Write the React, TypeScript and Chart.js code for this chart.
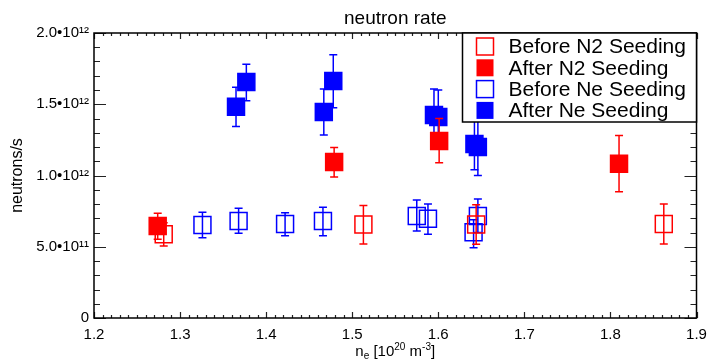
import React, { useEffect, useRef } from "react";
import { Chart, registerables } from "chart.js";

Chart.register(...registerables);

const FONT = "'Liberation Sans', Arial, Helvetica, sans-serif";

const chartTitle = "neutron rate";
const yAxisTitle = "neutrons/s";
const seriesLabels = ["Before N2 Seeding", "After N2 Seeding", "Before Ne Seeding", "After Ne Seeding"];
const seriesColors = ["#ff0000", "#ff0000", "#0000ff", "#0000ff"];
const seriesFilled = [false, true, false, true];

const xTickValues = [1.2, 1.3, 1.4, 1.5, 1.6, 1.7, 1.8, 1.9];
const xTickLabels = ["1.2", "1.3", "1.4", "1.5", "1.6", "1.7", "1.8", "1.9"];
const yTickValues = [0, 0.5e12, 1.0e12, 1.5e12, 2.0e12];
const yTickLabels = ["0", "5.0\u202210\u00b9\u00b9", "1.0\u202210\u00b9\u00b2", "1.5\u202210\u00b9\u00b2", "2.0\u202210\u00b9\u00b2"];

// Before N2 seeding (open red)
const beforeN2Density = [1.281, 1.513, 1.644, 1.862];
const beforeN2Rate = [0.587e12, 0.656e12, 0.656e12, 0.66e12];
const beforeN2Low = [0.505e12, 0.52e12, 0.517e12, 0.52e12];
const beforeN2High = [0.669e12, 0.79e12, 0.795e12, 0.8e12];

// After N2 seeding (filled red)
const afterN2Density = [1.274, 1.479, 1.601, 1.81];
const afterN2Rate = [0.646e12, 1.095e12, 1.242e12, 1.083e12];
const afterN2Low = [0.552e12, 0.99e12, 1.09e12, 0.886e12];
const afterN2High = [0.735e12, 1.197e12, 1.4e12, 1.28e12];

// Before Ne seeding (open blue)
const beforeNeDensity = [1.326, 1.368, 1.422, 1.466, 1.575, 1.588, 1.646, 1.641];
const beforeNeRate = [0.653e12, 0.681e12, 0.66e12, 0.681e12, 0.716e12, 0.696e12, 0.716e12, 0.601e12];
const beforeNeLow = [0.564e12, 0.594e12, 0.578e12, 0.578e12, 0.61e12, 0.587e12, 0.6e12, 0.493e12];
const beforeNeHigh = [0.742e12, 0.77e12, 0.739e12, 0.777e12, 0.828e12, 0.8e12, 0.835e12, 0.69e12];

// After Ne seeding (filled blue)
const afterNeDensity = [1.365, 1.377, 1.467, 1.478, 1.595, 1.6, 1.642, 1.646];
const afterNeRate = [1.482e12, 1.656e12, 1.446e12, 1.663e12, 1.425e12, 1.41e12, 1.221e12, 1.2e12];
const afterNeLow = [1.343e12, 1.525e12, 1.284e12, 1.476e12, 1.24e12, 1.237e12, 1.04e12, 1.0e12];
const afterNeHigh = [1.62e12, 1.78e12, 1.607e12, 1.848e12, 1.607e12, 1.6e12, 1.42e12, 1.44e12];

const seriesX = [beforeN2Density, afterN2Density, beforeNeDensity, afterNeDensity];
const seriesY = [beforeN2Rate, afterN2Rate, beforeNeRate, afterNeRate];
const seriesLow = [beforeN2Low, afterN2Low, beforeNeLow, afterNeLow];
const seriesHigh = [beforeN2High, afterN2High, beforeNeHigh, afterNeHigh];

const errorBarPlugin = {
  id: "errorBars",
  beforeDatasetDraw(chart: any, args: any) {
    const ds = chart.data.datasets[args.index];
    const xs = chart.scales.x;
    const ys = chart.scales.y;
    const ctx = chart.ctx;
    const area = chart.chartArea;
    ctx.save();
    ctx.beginPath();
    ctx.rect(area.left, area.top, area.right - area.left, area.bottom - area.top);
    ctx.clip();
    ctx.strokeStyle = ds.borderColor;
    ctx.lineWidth = 1.5;
    const cap = 4;
    ds.data.forEach((p: any) => {
      const px = xs.getPixelForValue(p.x);
      const top = ys.getPixelForValue(p.yMax);
      const bot = ys.getPixelForValue(p.yMin);
      ctx.beginPath();
      ctx.moveTo(px, top);
      ctx.lineTo(px, bot);
      ctx.moveTo(px - cap, top);
      ctx.lineTo(px + cap, top);
      ctx.moveTo(px - cap, bot);
      ctx.lineTo(px + cap, bot);
      ctx.stroke();
    });
    ctx.restore();
  },
};

const frameAndTicksPlugin = {
  id: "frameTicks",
  afterDatasetsDraw(chart: any) {
    const ctx = chart.ctx;
    const { left, right, top, bottom } = chart.chartArea;
    const xs = chart.scales.x;
    const ys = chart.scales.y;
    ctx.save();
    ctx.strokeStyle = "#222";
    ctx.lineWidth = 1.2;
    ctx.beginPath();
    const xMin = xs.min, xMax = xs.max;
    const nx = Math.round((xMax - xMin) / 0.01);
    for (let i = 0; i <= nx; i++) {
      const v = xMin + i * 0.01;
      const px = Math.round(xs.getPixelForValue(v)) + 0.5;
      const len = i % 10 === 0 ? 6 : 3;
      ctx.moveTo(px, bottom);
      ctx.lineTo(px, bottom - len);
      ctx.moveTo(px, top);
      ctx.lineTo(px, top + len);
    }
    const yMin = ys.min, yMax = ys.max;
    const ny = Math.round((yMax - yMin) / 1e11);
    for (let i = 0; i <= ny; i++) {
      const v = yMin + i * 1e11;
      const py = Math.round(ys.getPixelForValue(v)) + 0.5;
      const len = i % 5 === 0 ? 12 : 6;
      ctx.moveTo(left, py);
      ctx.lineTo(left + len, py);
      ctx.moveTo(right, py);
      ctx.lineTo(right - len, py);
    }
    ctx.stroke();
    ctx.strokeStyle = "#000";
    ctx.lineWidth = 1.5;
    ctx.strokeRect(left, top, right - left, bottom - top);
    ctx.restore();
  },
  afterDraw(chart: any) {
    const ctx = chart.ctx;
    const { left, right, top, bottom } = chart.chartArea;
    ctx.save();
    ctx.fillStyle = "#000";
    ctx.textBaseline = "alphabetic";
    const parts = [
      { t: "n", size: 15, dy: 0 },
      { t: "e", size: 10, dy: 3 },
      { t: " [10", size: 15, dy: 0 },
      { t: "20", size: 10, dy: -6 },
      { t: " m", size: 15, dy: 0 },
      { t: "-3", size: 10, dy: -6 },
      { t: "]", size: 15, dy: 0 },
    ];
    let total = 0;
    parts.forEach((p) => {
      ctx.font = `${p.size}px ${FONT}`;
      total += ctx.measureText(p.t).width;
    });
    let x = (left + right) / 2 - total / 2;
    const base = bottom + 38;
    parts.forEach((p) => {
      ctx.font = `${p.size}px ${FONT}`;
      ctx.fillText(p.t, x, base + p.dy);
      x += ctx.measureText(p.t).width;
    });

    const boxW = 234;
    const boxH = 89;
    const bx = right - boxW;
    const by = top;
    ctx.fillStyle = "#fff";
    ctx.fillRect(bx, by, boxW, boxH);
    ctx.strokeStyle = "#000";
    ctx.lineWidth = 1.5;
    ctx.strokeRect(bx, by, boxW, boxH);
    ctx.font = `21px ${FONT}`;
    ctx.textBaseline = "middle";
    chart.data.datasets.forEach((ds: any, i: number) => {
      const cy = by + 13.5 + i * 21.3;
      const mx = bx + 14;
      if (ds.filled) {
        ctx.fillStyle = ds.borderColor;
        ctx.fillRect(mx, cy - 8.5, 17, 17);
      } else {
        ctx.strokeStyle = ds.borderColor;
        ctx.lineWidth = 1.5;
        ctx.strokeRect(mx, cy - 8.5, 17, 17);
      }
      ctx.fillStyle = "#000";
      ctx.fillText(ds.label, bx + 46, cy + 1);
    });
    ctx.restore();
  },
};

export default function App() {
  const ref = useRef<HTMLCanvasElement | null>(null);
  useEffect(() => {
    if (!ref.current) return;
    const datasets = seriesLabels.map((label, s) => ({
      label,
      filled: seriesFilled[s],
      data: seriesX[s].map((x, i) => ({ x, y: seriesY[s][i], yMin: seriesLow[s][i], yMax: seriesHigh[s][i] })),
      borderColor: seriesColors[s],
      backgroundColor: seriesFilled[s] ? seriesColors[s] : "rgba(0,0,0,0)",
      pointStyle: "rect",
      pointRadius: 12,
      pointHoverRadius: 12,
      pointBorderWidth: 1.5,
      borderWidth: 1.5,
      showLine: false,
    }));
    const chart = new Chart(ref.current, {
      type: "scatter",
      data: { datasets } as any,
      options: {
        animation: false,
        responsive: false,
        events: [],
        layout: { padding: { left: 0, right: 2, top: 0, bottom: 0 } },
        plugins: {
          legend: { display: false },
          tooltip: { enabled: false },
          title: {
            display: true,
            fullSize: false,
            text: chartTitle,
            color: "#000",
            font: { family: FONT, size: 19, weight: "normal" },
            padding: { top: 7, bottom: 3.2 },
          },
        },
        scales: {
          x: {
            type: "linear",
            min: 1.2,
            max: 1.9,
            afterBuildTicks: (scale: any) => {
              scale.ticks = xTickValues.map((v) => ({ value: v }));
            },
            afterFit: (scale: any) => {
              scale.height = 45;
              scale.paddingLeft = 0;
              scale.paddingRight = 0;
            },
            ticks: {
              callback: (_v: any, i: number) => xTickLabels[i],
              color: "#000",
              font: { family: FONT, size: 15 },
              padding: 8,
              maxRotation: 0,
              autoSkip: false,
            },
            grid: { display: false, drawTicks: false },
            border: { display: false },
          },
          y: {
            type: "linear",
            min: 0,
            max: 2e12,
            afterBuildTicks: (scale: any) => {
              scale.ticks = yTickValues.map((v) => ({ value: v }));
            },
            afterFit: (scale: any) => {
              scale.width = 94;
              scale.paddingTop = 0;
              scale.paddingBottom = 0;
            },
            ticks: {
              callback: (_v: any, i: number) => yTickLabels[i],
              color: "#000",
              font: { family: FONT, size: 15 },
              padding: 5,
              autoSkip: false,
            },
            grid: { display: false, drawTicks: false },
            border: { display: false },
            title: {
              display: true,
              text: yAxisTitle,
              color: "#000",
              font: { family: FONT, size: 16 },
              padding: { top: 8, bottom: 0 },
            },
          },
        },
      } as any,
      plugins: [errorBarPlugin, frameAndTicksPlugin],
    });
    return () => chart.destroy();
  }, []);
  return (
    <div style={{ position: "fixed", left: 0, top: 0, width: 710, height: 363, background: "#fff" }}>
      <canvas ref={ref} width={710} height={363} style={{ display: "block" }} />
    </div>
  );
}
